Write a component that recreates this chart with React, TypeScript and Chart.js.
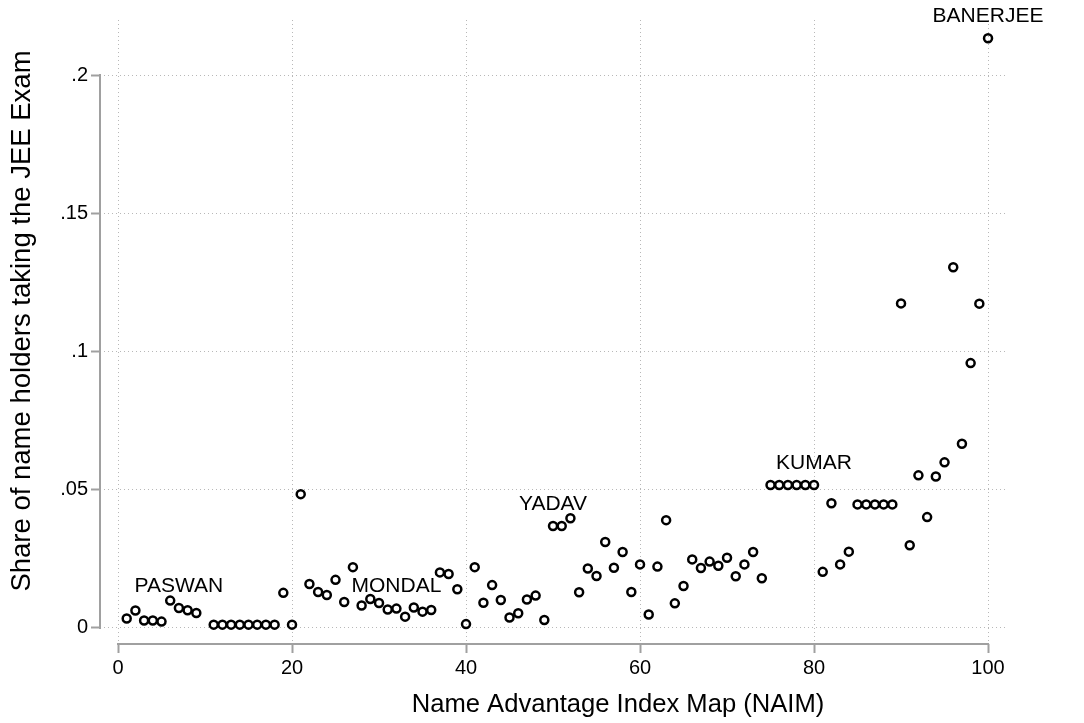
import React, { useEffect, useRef } from "react";
import { Chart, registerables } from "chart.js";

Chart.register(...registerables);

// NAIM index (x) — index 10 has no marker in the reference
const naimIndex = [
  1, 2, 3, 4, 5, 6, 7, 8, 9,
  11, 12, 13, 14, 15, 16, 17, 18, 19, 20,
  21, 22, 23, 24, 25, 26, 27, 28, 29, 30,
  31, 32, 33, 34, 35, 36, 37, 38, 39, 40,
  41, 42, 43, 44, 45, 46, 47, 48, 49, 50,
  51, 52, 53, 54, 55, 56, 57, 58, 59, 60,
  61, 62, 63, 64, 65, 66, 67, 68, 69, 70,
  71, 72, 73, 74, 75, 76, 77, 78, 79, 80,
  81, 82, 83, 84, 85, 86, 87, 88, 89, 90,
  91, 92, 93, 94, 95, 96, 97, 98, 99, 100,
];

// Share of name holders taking the JEE exam
const jeeShare = [
  0.0034, 0.0063, 0.0027, 0.0027, 0.0023, 0.0099, 0.0072, 0.0064, 0.0054,
  0.0012, 0.0012, 0.0012, 0.0012, 0.0012, 0.0012, 0.0012, 0.0012, 0.0127, 0.0012,
  0.0484, 0.0159, 0.013, 0.0119, 0.0174, 0.0094, 0.022, 0.0081, 0.0105, 0.009,
  0.0067, 0.007, 0.0041, 0.0074, 0.0059, 0.0065, 0.0201, 0.0195, 0.014, 0.0014,
  0.022, 0.0091, 0.0155, 0.0101, 0.0038, 0.0053, 0.0103, 0.0117, 0.0029, 0.0369,
  0.0369, 0.0397, 0.0129, 0.0215, 0.0188, 0.0311, 0.0218, 0.0275, 0.013, 0.023,
  0.0049, 0.0222, 0.039, 0.0089, 0.0152, 0.0248, 0.0217, 0.024, 0.0225, 0.0254,
  0.0187, 0.023, 0.0275, 0.018, 0.0517, 0.0517, 0.0517, 0.0517, 0.0517, 0.0517,
  0.0203, 0.0451, 0.023, 0.0276, 0.0447, 0.0447, 0.0447, 0.0447, 0.0447, 0.1174,
  0.0299, 0.0552, 0.0401, 0.0548, 0.0599, 0.1305, 0.0666, 0.0958, 0.1173, 0.2133,
];

const labeledIndex = [7, 32, 50, 80, 100];
const labeledNames = ["PASWAN", "MONDAL", "YADAV", "KUMAR", "BANERJEE"];

const xTicks = [0, 20, 40, 60, 80, 100];
const xTickLabels = ["0", "20", "40", "60", "80", "100"];
const yTicks = [0, 0.05, 0.1, 0.15, 0.2];
const yTickLabels = ["0", ".05", ".1", ".15", ".2"];

const xTitle = "Name Advantage Index Map (NAIM)";
const yTitle = "Share of name holders taking the JEE Exam";

const FONT = "'Liberation Sans', Arial, Helvetica, sans-serif";
const AXIS_GRAY = "#a0a0a0";

export default function App() {
  const canvasRef = useRef<HTMLCanvasElement | null>(null);

  useEffect(() => {
    const canvas = canvasRef.current;
    if (!canvas) return;

    const decorPlugin = {
      id: "decor",
      beforeDraw(chart: any) {
        const { ctx, width, height } = chart;
        ctx.save();
        ctx.fillStyle = "#ffffff";
        ctx.fillRect(0, 0, width, height);
        ctx.restore();
      },
      beforeDatasetsDraw(chart: any) {
        const { ctx, chartArea, scales } = chart;
        const xs = scales.x;
        const ys = scales.y;
        ctx.save();
        ctx.strokeStyle = AXIS_GRAY;
        ctx.lineWidth = 2;
        ctx.beginPath();
        ctx.moveTo(chartArea.left, ys.getPixelForValue(yTicks[yTicks.length - 1]) - 1);
        ctx.lineTo(chartArea.left, ys.getPixelForValue(yTicks[0]) + 1);
        ctx.stroke();
        ctx.beginPath();
        ctx.moveTo(xs.getPixelForValue(xTicks[0]) - 1, chartArea.bottom);
        ctx.lineTo(xs.getPixelForValue(xTicks[xTicks.length - 1]) + 1, chartArea.bottom);
        ctx.stroke();
        ctx.restore();
      },
      afterDatasetsDraw(chart: any) {
        const { ctx, scales } = chart;
        const xs = scales.x;
        const ys = scales.y;
        ctx.save();
        ctx.fillStyle = "#000000";
        ctx.font = `21px ${FONT}`;
        ctx.textAlign = "center";
        ctx.textBaseline = "middle";
        labeledIndex.forEach((idx, i) => {
          const k = naimIndex.indexOf(idx);
          if (k < 0) return;
          const px = xs.getPixelForValue(idx);
          const py = ys.getPixelForValue(jeeShare[k]);
          ctx.fillText(labeledNames[i], px, py - 22);
        });

        ctx.font = `25.6px ${FONT}`;
        ctx.fillText(xTitle, 618, 705);
        ctx.font = `27.5px ${FONT}`;
        ctx.translate(22, 321);
        ctx.rotate(-Math.PI / 2);
        ctx.fillText(yTitle, 0, 0);
        ctx.restore();
      },
    };

    const chart = new Chart(canvas, {
      type: "scatter",
      data: {
        datasets: [
          {
            data: naimIndex.map((x, i) => ({ x, y: jeeShare[i] })),
            pointStyle: "circle",
            pointRadius: 4,
            pointHoverRadius: 4,
            borderColor: "#000000",
            backgroundColor: "rgba(255,255,255,0)",
            borderWidth: 2.5,
          },
        ],
      },
      options: {
        responsive: false,
        animation: false,
        events: [],
        layout: { padding: { top: 20, right: 79, left: 0, bottom: 0 } },
        plugins: {
          legend: { display: false },
          tooltip: { enabled: false },
          title: { display: false },
        },
        scales: {
          x: {
            type: "linear",
            min: -2.07,
            max: 101.95,
            afterBuildTicks: (s: any) => {
              s.ticks = xTicks.map((v) => ({ value: v }));
            },
            afterFit: (s: any) => {
              s.height = 79;
            },
            border: { display: false, dash: [1, 3] },
            grid: {
              color: "#b8b8b8",
              lineWidth: 1,
              drawTicks: true,
              tickLength: 9,
              tickColor: AXIS_GRAY,
              tickWidth: 2,
              tickBorderDash: [],
            },
            ticks: {
              color: "#000000",
              font: { family: FONT, size: 20 },
              padding: 3,
              maxRotation: 0,
              autoSkip: false,
              callback: (v: any) => {
                const i = xTicks.indexOf(Number(v));
                return i >= 0 ? xTickLabels[i] : "";
              },
            },
          },
          y: {
            type: "linear",
            min: -0.0058,
            max: 0.2199,
            afterBuildTicks: (s: any) => {
              s.ticks = yTicks.map((v) => ({ value: v }));
            },
            afterFit: (s: any) => {
              s.width = 100;
            },
            border: { display: false, dash: [1, 3] },
            grid: {
              color: "#b8b8b8",
              lineWidth: 1,
              drawTicks: true,
              tickLength: 9,
              tickColor: AXIS_GRAY,
              tickWidth: 2,
              tickBorderDash: [],
            },
            ticks: {
              color: "#000000",
              font: { family: FONT, size: 20 },
              padding: 3,
              autoSkip: false,
              callback: (v: any) => {
                const i = yTicks.findIndex((t) => Math.abs(t - Number(v)) < 1e-9);
                return i >= 0 ? yTickLabels[i] : "";
              },
            },
          },
        },
      },
      plugins: [decorPlugin],
    } as any);

    return () => {
      chart.destroy();
    };
  }, []);

  return (
    <div
      style={{
        position: "fixed",
        left: 0,
        top: 0,
        width: 1084,
        height: 723,
        background: "#ffffff",
      }}
    >
      <canvas ref={canvasRef} width={1084} height={723} style={{ display: "block" }} />
    </div>
  );
}
